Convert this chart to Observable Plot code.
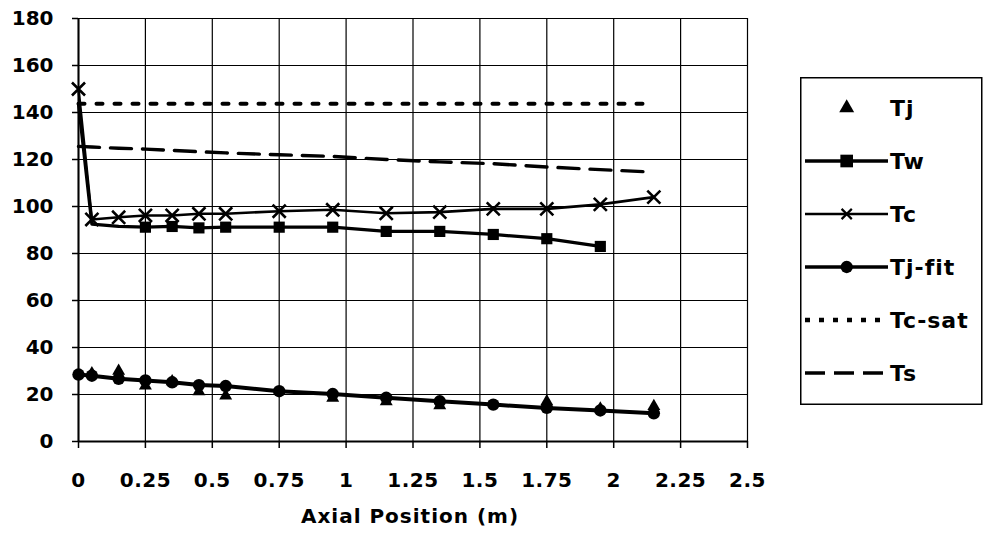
<!DOCTYPE html>
<html>
<head>
<meta charset="utf-8">
<script src="https://cdn.jsdelivr.net/npm/d3@7"></script>
<script src="https://cdn.jsdelivr.net/npm/@observablehq/plot@0.6"></script>
<style>
  html, body { margin: 0; padding: 0; background: #fff; }
  #wrap { position: relative; width: 983px; height: 540px; overflow: hidden; }
  #legend { position: absolute; left: 800px; top: 77px; }
  svg g[aria-label="x-axis tick label"] text { letter-spacing: 0.5px; }
  svg g[aria-label="text"] text { letter-spacing: 1px; }
</style>
</head>
<body>
<div id="wrap"></div>
<script>
// Axial positions of the measurement stations (m)
const xGrid = [0, 0.05, 0.15, 0.25, 0.35, 0.45, 0.55, 0.75, 0.95, 1.15, 1.35, 1.55, 1.75, 1.95, 2.15];

// Measured jacket temperature
const tjX = [0.05, 0.15, 0.25, 0.35, 0.45, 0.55, 0.95, 1.15, 1.35, 1.75, 1.95, 2.15];
const tjY = [29, 30, 23.7, 25.5, 21.3, 19.5, 18.5, 17, 15.3, 17, 14, 15];

// Wall temperature
const twX = [0, 0.05, 0.15, 0.25, 0.35, 0.45, 0.55, 0.75, 0.95, 1.15, 1.35, 1.55, 1.75, 1.95];
const twY = [143.7, 92.5, 91.5, 91.2, 91.5, 90.9, 91.2, 91.2, 91.2, 89.4, 89.4, 88.1, 86.3, 83];

// Condensate temperature
const tcY = [150, 94.5, 95.4, 96.2, 96.2, 96.9, 96.9, 98, 98.6, 97.1, 97.6, 99, 99, 100.9, 104];

// Fitted jacket temperature
const tjFitY = [28.5, 28, 26.7, 26, 25.2, 24, 23.6, 21.4, 20.2, 18.6, 17.1, 15.7, 14.3, 13.2, 12];

// Saturation temperature of the condensate
const tcSatY = [143.7, 143.7, 143.7, 143.7, 143.7, 143.7, 143.7, 143.7, 143.7, 143.7, 143.7, 143.7, 143.7, 143.7, 143.7];

// Steam temperature
const tsY = [125.6, 125.3, 124.8, 124.4, 123.9, 123.3, 122.8, 122.0, 121.3, 120.0, 119.0, 118.2, 116.8, 115.7, 114.6];

// Axes
const xTicks = [0, 0.25, 0.5, 0.75, 1, 1.25, 1.5, 1.75, 2, 2.25, 2.5];
const xTickLabels = ["0", "0.25", "0.5", "0.75", "1", "1.25", "1.5", "1.75", "2", "2.25", "2.5"];
const yTicks = [0, 20, 40, 60, 80, 100, 120, 140, 160, 180];
const xTitle = "Axial Position (m)";

const seriesNames = ["Tj", "Tw", "Tc", "Tj-fit", "Tc-sat", "Ts"];

const rows = (xs, ys) => xs.map((x, i) => ({x, y: ys[i]}));
const tj = rows(tjX, tjY);
const tw = rows(twX, twY);
const tc = rows(xGrid, tcY);
const tjFit = rows(xGrid, tjFitY);
const tcSat = rows(xGrid, tcSatY);
const ts = rows(xGrid, tsY);

const grid = {stroke: "black", strokeOpacity: 1, strokeWidth: 1.2};

const chart = Plot.plot({
  width: 983,
  height: 540,
  marginLeft: 78,
  marginRight: 236,
  marginTop: 18,
  marginBottom: 99,
  x: {domain: [0, 2.5]},
  y: {domain: [0, 180]},
  style: {fontFamily: "DejaVu Sans", fontWeight: "bold", fontSize: "20px", color: "black", background: "white"},
  marks: [
    Plot.gridY(yTicks, grid),
    Plot.gridX(xTicks, grid),
    Plot.axisY(yTicks, {tickSize: 6, tickPadding: 19, label: null, strokeWidth: 1.5}),
    Plot.axisX(xTicks, {tickSize: 7, tickPadding: 24, label: null, strokeWidth: 1.5,
      tickFormat: d => xTickLabels[xTicks.indexOf(d)]}),
    Plot.ruleY([0], {stroke: "black", strokeWidth: 2}),
    Plot.ruleX([0], {stroke: "black", strokeWidth: 2}),

    // Tj: markers only
    Plot.dot(tj, {x: "x", y: "y", symbol: "triangle", r: 4.8, fill: "black", stroke: "none"}),

    // Tw: line with square markers
    Plot.line(tw, {x: "x", y: "y", stroke: "black", strokeWidth: 3.3}),
    Plot.dot(tw.filter(d => d.x >= 0.25), {x: "x", y: "y", symbol: "square", r: 6.3, fill: "black", stroke: "none"}),

    // Tc: line with cross markers
    Plot.line(tc, {x: "x", y: "y", stroke: "black", strokeWidth: 2.6}),
    Plot.dot(tc, {x: "x", y: "y", symbol: "times", r: 6, stroke: "black", strokeWidth: 2.6, fill: "none"}),

    // Tj-fit: line with circle markers
    Plot.line(tjFit, {x: "x", y: "y", stroke: "black", strokeWidth: 4}),
    Plot.dot(tjFit, {x: "x", y: "y", r: 6.2, fill: "black", stroke: "none"}),

    // Tc-sat: dotted
    Plot.line(tcSat, {x: "x", y: "y", stroke: "black", strokeWidth: 4, strokeDasharray: "6,12"}),

    // Ts: dashed
    Plot.line(ts, {x: "x", y: "y", stroke: "black", strokeWidth: 3.4, strokeDasharray: "21,11"}),

    Plot.text([xTitle], {frameAnchor: "bottom", dy: 81, dx: -3, fontSize: 20, fontWeight: "bold", fill: "black"})
  ]
});

const wrap = document.getElementById("wrap");
wrap.appendChild(chart);

// Legend box on the right
const lw = 183, lh = 328;
const legend = d3.select(wrap).append("svg")
  .attr("id", "legend")
  .attr("width", lw)
  .attr("height", lh)
  .style("font-family", "DejaVu Sans")
  .style("font-weight", "bold");

legend.append("rect")
  .attr("x", 0.75).attr("y", 0.75)
  .attr("width", lw - 2).attr("height", lh - 1.5)
  .attr("fill", "white").attr("stroke", "black").attr("stroke-width", 1.5);

const swatch = {
  "Tj":     {line: null, symbol: d3.symbolTriangle, size: 97, fill: true},
  "Tw":     {line: {w: 3.3, dash: null}, symbol: d3.symbolSquare, size: 160, fill: true},
  "Tc":     {line: {w: 2.6, dash: null}, symbol: d3.symbolTimes, size: 70, fill: false},
  "Tj-fit": {line: {w: 3.5, dash: null}, symbol: d3.symbolCircle, size: 120, fill: true},
  "Tc-sat": {line: {w: 4.5, dash: "5,9"}, symbol: null},
  "Ts":     {line: {w: 3.4, dash: "20,9"}, symbol: null}
};

const ly = d3.scalePoint().domain(seriesNames).range([31, 296]);
const x0 = 5, x1 = 88, xm = 46.7;

seriesNames.forEach(name => {
  const s = swatch[name];
  const y = ly(name);
  const g = legend.append("g");
  if (s.line) {
    g.append("line")
      .attr("x1", x0).attr("x2", x1).attr("y1", y).attr("y2", y)
      .attr("stroke", "black").attr("stroke-width", s.line.w)
      .attr("stroke-dasharray", s.line.dash);
  }
  if (s.symbol) {
    g.append("path")
      .attr("transform", `translate(${xm},${y})`)
      .attr("d", d3.symbol(s.symbol, s.size)())
      .attr("fill", s.fill ? "black" : "none")
      .attr("stroke", s.fill ? "none" : "black")
      .attr("stroke-width", s.fill ? null : 2.2);
  }
  g.append("text")
    .attr("x", 90).attr("y", y)
    .attr("dy", "0.36em")
    .attr("font-size", 22)
    .attr("letter-spacing", 1)
    .attr("fill", "black")
    .text(name);
});
</script>
</body>
</html>
